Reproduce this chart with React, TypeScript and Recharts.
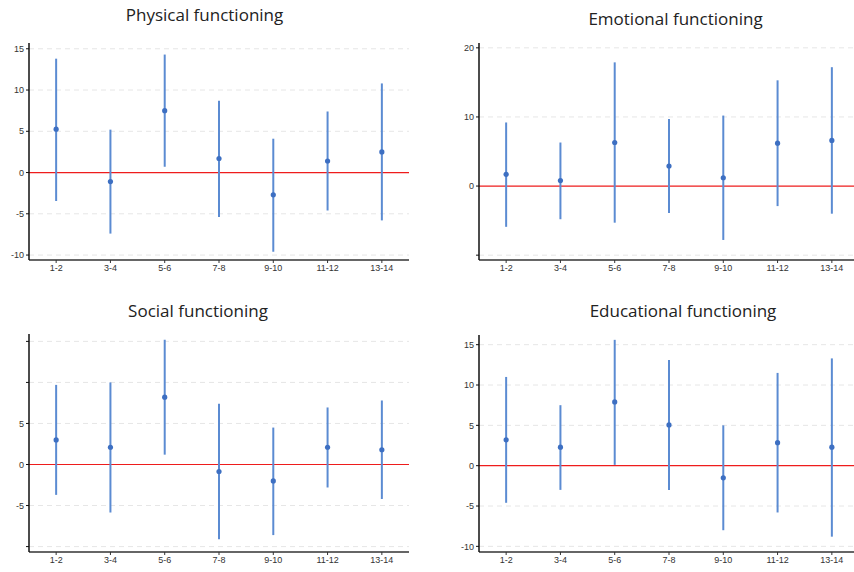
import React from "react";
import {
  ComposedChart,
  Scatter,
  ErrorBar,
  XAxis,
  YAxis,
  ReferenceLine,
} from "recharts";

// age groups on the x axis
const categories = ["1-2", "3-4", "5-6", "7-8", "9-10", "11-12", "13-14"];

// estimate with 95% CI, per domain
const physicalMean = [5.25, -1.1, 7.5, 1.7, -2.7, 1.4, 2.5];
const physicalLow = [-3.45, -7.4, 0.7, -5.4, -9.6, -4.6, -5.8];
const physicalHigh = [13.8, 5.2, 14.3, 8.7, 4.1, 7.4, 10.8];

const emotionalMean = [1.7, 0.8, 6.3, 2.9, 1.2, 6.2, 6.6];
const emotionalLow = [-5.9, -4.8, -5.3, -3.9, -7.8, -2.9, -4.0];
const emotionalHigh = [9.2, 6.3, 17.9, 9.7, 10.2, 15.3, 17.2];

const socialMean = [3.0, 2.1, 8.2, -0.85, -2.0, 2.1, 1.8];
const socialLow = [-3.7, -5.85, 1.2, -9.1, -8.6, -2.8, -4.2];
const socialHigh = [9.7, 10.0, 15.2, 7.4, 4.5, 6.95, 7.8];

const educationalMean = [3.2, 2.3, 7.9, 5.05, -1.5, 2.85, 2.3];
const educationalLow = [-4.6, -3.0, 0.1, -3.0, -8.0, -5.8, -8.8];
const educationalHigh = [11.0, 7.5, 15.6, 13.1, 5.0, 11.5, 13.3];

// y ticks, and which of them carry a label
const physicalTicks = [-10, -5, 0, 5, 10, 15];
const emotionalTicks = [-10, 0, 10, 20];
const emotionalLabels = [0, 10, 20];
const socialTicks = [-10, -5, 0, 5, 10, 15];
const socialLabels = [-5, 0, 5];
const educationalTicks = [-10, -5, 0, 5, 10, 15];

const build = (mean: number[], low: number[], high: number[]) =>
  categories.map((cat, i) => ({
    cat,
    mean: mean[i],
    err: [mean[i] - low[i], high[i] - mean[i]],
  }));

const tickFont = { fontFamily: "Liberation Sans, Arial, sans-serif", fontSize: 9, fill: "#333" };
const PLOT_W = 380;
const HALF_BAND = PLOT_W / categories.length / 2;

type PanelProps = {
  title: string;
  data: ReturnType<typeof build>;
  left: number;
  top: number;
  width: number;
  height: number;
  marginTop: number;
  marginBottom: number;
  yWidth: number;
  domain: [number, number];
  ticks: number[];
  labels?: number[];
  titleX: number;
  titleY: number;
};

function Panel(p: PanelProps) {
  const dot = (props: any) => <circle cx={props.cx} cy={props.cy} r={2.6} fill="#3d6fc2" />;
  return (
    <>
      <div
        style={{
          position: "absolute",
          left: p.titleX - 150,
          top: p.titleY,
          width: 300,
          textAlign: "center",
          fontFamily: "Open Sans, sans-serif",
          fontSize: 17,
          lineHeight: "17px",
          color: "#222",
          whiteSpace: "nowrap",
        }}
      >
        {p.title}
      </div>
      <div style={{ position: "absolute", left: p.left, top: p.top }}>
        <ComposedChart
          width={p.width}
          height={p.height}
          data={p.data}
          margin={{ top: p.marginTop, right: p.width - p.yWidth - PLOT_W, bottom: p.marginBottom, left: 0 }}
        >
          <XAxis
            dataKey="cat"
            type="category"
            height={20}
            padding={{ left: HALF_BAND, right: HALF_BAND }}
            tickSize={3}
            tick={tickFont}
            axisLine={{ stroke: "#333", strokeWidth: 1.5 }}
            tickLine={{ stroke: "#333" }}
            interval={0}
          />
          <YAxis
            type="number"
            width={p.yWidth}
            domain={p.domain}
            ticks={p.ticks}
            allowDataOverflow
            tickSize={3}
            tickMargin={2}
            tick={tickFont}
            axisLine={{ stroke: "#111", strokeWidth: 1.5 }}
            tickLine={{ stroke: "#111" }}
            tickFormatter={(v: number) => (p.labels && !p.labels.includes(v) ? "" : String(v))}
          />
          {p.ticks
            .filter((t) => t !== 0)
            .map((t) => (
              <ReferenceLine key={t} y={t} stroke="#e6e6e6" strokeDasharray="5 4" />
            ))}
          <ReferenceLine y={0} stroke="#ee1c1c" strokeWidth={1.2} />
          <Scatter dataKey="mean" shape={dot} isAnimationActive={false}>
            <ErrorBar
              dataKey="err"
              direction="y"
              width={0}
              stroke="#5b8bd2"
              strokeWidth={2}
              isAnimationActive={false}
            />
          </Scatter>
        </ComposedChart>
      </div>
    </>
  );
}

export default function App() {
  return (
    <div
      style={{
        position: "absolute",
        left: 0,
        top: 0,
        width: 854,
        height: 572,
        overflow: "hidden",
        background: "#fff",
      }}
    >
      <Panel
        title="Physical functioning"
        data={build(physicalMean, physicalLow, physicalHigh)}
        left={0}
        top={0}
        width={420}
        height={290}
        marginTop={43}
        marginBottom={10}
        yWidth={29}
        domain={[-10.6, 15.7]}
        ticks={physicalTicks}
        titleX={204.5}
        titleY={5.5}
      />
      <Panel
        title="Emotional functioning"
        data={build(emotionalMean, emotionalLow, emotionalHigh)}
        left={430}
        top={0}
        width={430}
        height={290}
        marginTop={43}
        marginBottom={10}
        yWidth={49}
        domain={[-10.7, 20.7]}
        ticks={emotionalTicks}
        labels={emotionalLabels}
        titleX={675.5}
        titleY={10}
      />
      <Panel
        title="Social functioning"
        data={build(socialMean, socialLow, socialHigh)}
        left={0}
        top={290}
        width={420}
        height={282}
        marginTop={44}
        marginBottom={0}
        yWidth={29}
        domain={[-10.66, 15.9]}
        ticks={socialTicks}
        labels={socialLabels}
        titleX={198}
        titleY={301.5}
      />
      <Panel
        title="Educational functioning"
        data={build(educationalMean, educationalLow, educationalHigh)}
        left={430}
        top={290}
        width={430}
        height={282}
        marginTop={45}
        marginBottom={0}
        yWidth={49}
        domain={[-10.7, 16.2]}
        ticks={educationalTicks}
        titleX={683}
        titleY={301.5}
      />
    </div>
  );
}
